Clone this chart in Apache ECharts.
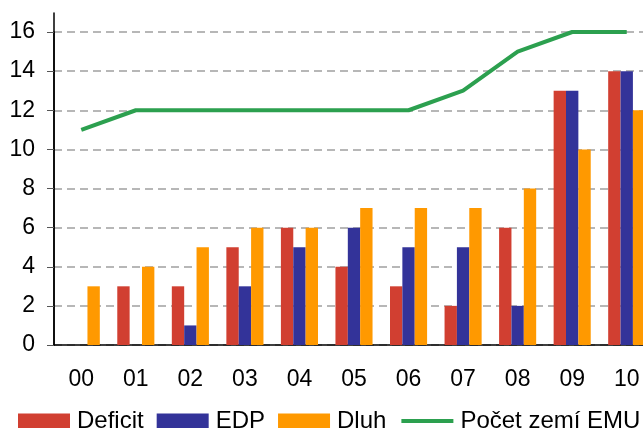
<!DOCTYPE html>
<html>
<head>
<meta charset="utf-8">
<script src="https://cdn.jsdelivr.net/npm/echarts@6/dist/echarts.min.js"></script>
<style>
  html, body { margin: 0; padding: 0; background: #fff; }
  #chart { width: 643px; height: 428px; }
</style>
</head>
<body>
<div id="chart"></div>
<script>
const roky = ['00', '01', '02', '03', '04', '05', '06', '07', '08', '09', '10'];
const deficit = [0, 3, 3, 5, 6, 4, 3, 2, 6, 13, 14];
const edp = [0, 0, 1, 3, 5, 6, 5, 5, 2, 13, 14];
const dluh = [3, 4, 5, 6, 6, 7, 7, 7, 8, 10, 12];
const pocetZemi = [11, 12, 12, 12, 12, 12, 12, 13, 15, 16, 16];

const font = 'Liberation Sans, Arial, sans-serif';

let chart = echarts.init(document.getElementById('chart'));
let options = {
    animation: false,
    textStyle: { fontFamily: font },
    grid: [
        { left: 54, top: 32, bottom: 83, width: 600, outerBoundsMode: 'none' },
        // jen kvuli presahu osy y nad 16
        { left: 54, top: 13, bottom: 83, width: 600, outerBoundsMode: 'none' }
    ],
    legend: {
        left: 18,
        top: 409,
        padding: 0,
        itemWidth: 52,
        itemHeight: 15,
        itemGap: 13,
        textStyle: { fontSize: 24, color: '#000', fontFamily: font, padding: [0, 0, 0, 2] },
        data: [
            { name: 'Deficit', icon: 'rect' },
            { name: 'EDP', icon: 'rect' },
            { name: 'Dluh', icon: 'rect' },
            { name: 'Počet zemí EMU', itemStyle: { opacity: 0 }, lineStyle: { width: 4 } }
        ]
    },
    xAxis: [
        {
            type: 'category',
            data: roky,
            gridIndex: 0,
            axisLine: { lineStyle: { color: '#000', width: 1.5 } },
            axisTick: { length: 7, lineStyle: { color: '#555' } },
            axisLabel: { fontSize: 23, color: '#000', margin: 23 }
        },
        { type: 'value', gridIndex: 1, min: 0, max: 1, show: false }
    ],
    yAxis: [
        {
            type: 'value',
            gridIndex: 0,
            min: 0,
            max: 16,
            interval: 2,
            axisLine: { show: true, lineStyle: { color: '#000', width: 1.5 } },
            axisTick: { show: true, length: 7, lineStyle: { color: '#555' } },
            axisLabel: { fontSize: 23, color: '#000', margin: 19 },
            splitLine: { lineStyle: { color: '#a0a0a0', type: [8, 5], width: 1.5 } }
        },
        {
            type: 'value',
            gridIndex: 1,
            min: 0,
            max: 1,
            axisLine: { show: true, lineStyle: { color: '#000', width: 1.5 } },
            axisTick: { show: false },
            axisLabel: { show: false },
            splitLine: { show: false }
        }
    ],
    series: [
        {
            name: 'Deficit',
            type: 'bar',
            data: deficit,
            barGap: 0,
            barCategoryGap: '32%',
            itemStyle: { color: '#d13f31' }
        },
        {
            name: 'EDP',
            type: 'bar',
            data: edp,
            barGap: 0,
            barCategoryGap: '32%',
            itemStyle: { color: '#333399' }
        },
        {
            name: 'Dluh',
            type: 'bar',
            data: dluh,
            barGap: 0,
            barCategoryGap: '32%',
            itemStyle: { color: '#ff9900' }
        },
        {
            name: 'Počet zemí EMU',
            type: 'line',
            data: pocetZemi,
            symbol: 'none',
            lineStyle: { color: '#2ca04f', width: 4 },
            itemStyle: { color: '#2ca04f' },
            z: 5
        }
    ]
};
chart.setOption(options);
</script>
</body>
</html>
